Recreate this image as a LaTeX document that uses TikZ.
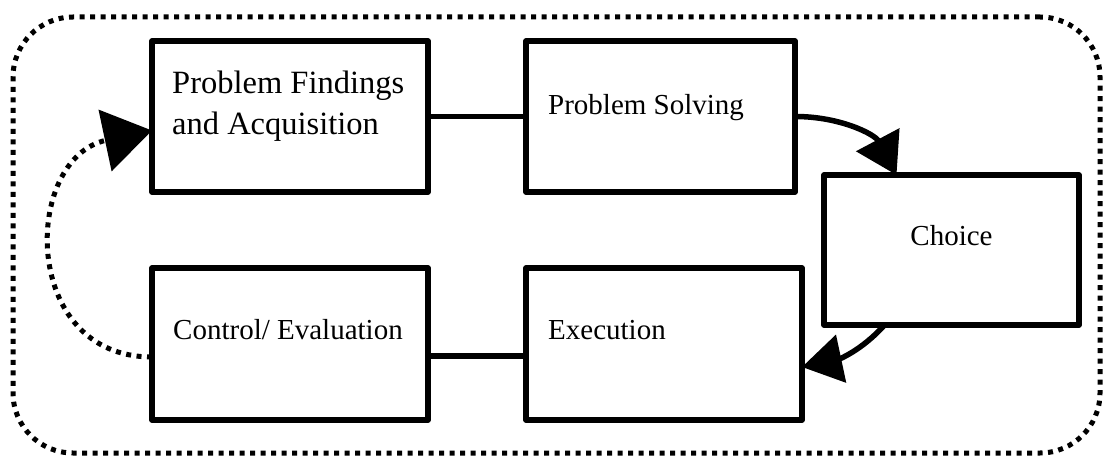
\documentclass[tikz,border=0pt]{standalone}
\usepackage{fontspec}
\setmainfont{Liberation Serif}
\usetikzlibrary{arrows.meta}
\begin{document}
\begin{tikzpicture}[x=1pt, y=1pt,
  stage/.style={draw=black, line width=5.5pt, line join=round, fill=white,
    inner sep=0pt, outer sep=0pt},
  caption/.style={inner sep=0pt, anchor=base west, font=\fontsize{29}{35}\selectfont},
  bigcaption/.style={caption, font=\fontsize{32.5}{39}\selectfont},
  link/.style={draw=black, line width=5.5pt},
  dotline/.style={draw=black, line width=5pt, dash pattern=on 5pt off 5.5pt},
  bighead/.style={-{Triangle[length=40pt, width=48pt]}},
  dothead/.style={-{Triangle[length=48pt, width=62pt]}}]
\useasboundingbox (0,0) rectangle (1103,456);

% dotted frame round the whole cycle
\node[dotline, rounded corners=60pt, minimum width=1087pt, minimum height=436pt,
  inner sep=0pt] (frame) at (556.5,221) {};

% the five stages
\node[stage, minimum width=276pt, minimum height=151pt] (b1) at (290,339.5) {};
\node[stage, minimum width=269pt, minimum height=151pt] (b2) at (660.5,339.5) {};
\node[stage, minimum width=255pt, minimum height=150pt] (b3) at (951.5,206) {};
\node[stage, minimum width=276pt, minimum height=152pt] (b4) at (290,112) {};
\node[stage, minimum width=276pt, minimum height=152pt] (b5) at (664,112) {};

% stage names
\node[bigcaption] (t1a) at (172,362) {Problem Findings};
\node[bigcaption] (t1b) at (172,321) {and Acquisition};
\node[caption] (t2) at (548,341) {Problem Solving};
\node[caption, anchor=base] (t3) at (951.5,211) {Choice};
\node[caption] (t4) at (173,117) {Control/ Evaluation};
\node[caption] (t5) at (548,117) {Execution};

% connectors
\draw[link] (b1.east) -- (b2.west);
\draw[link] ([yshift=-12pt]b4.east) -- ([yshift=-12pt]b5.west);
\draw[link, bighead] (b2.east) to[out=0, in=118] ([xshift=-55pt]b3.north);
\draw[link, bighead] ([xshift=-67pt]b3.south) to[out=228, in=12] ([yshift=-23pt]b5.east);
\draw[dotline, dothead] ([yshift=-13pt]b4.west) to[out=180, in=192, looseness=1.5]
  ([yshift=-14pt]b1.west);
\end{tikzpicture}
\end{document}
